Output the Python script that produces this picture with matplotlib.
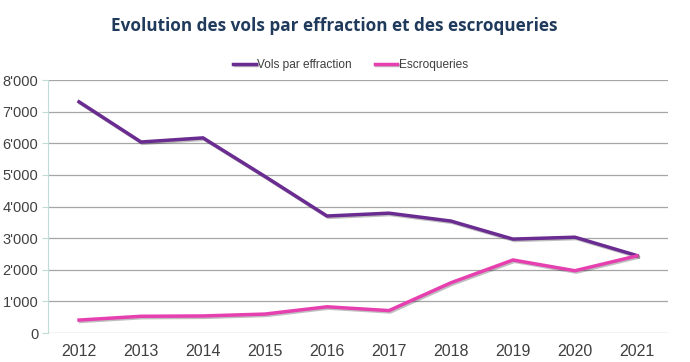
import matplotlib.pyplot as plt
import matplotlib.patheffects as pe
from matplotlib.ticker import FuncFormatter

years = [2012, 2013, 2014, 2015, 2016, 2017, 2018, 2019, 2020, 2021]
vols = [7310, 6040, 6170, 4950, 3700, 3790, 3540, 2970, 3030, 2450]
escroqueries = [410, 530, 540, 600, 830, 710, 1590, 2310, 1970, 2440]
yticks = [0, 1000, 2000, 3000, 4000, 5000, 6000, 7000, 8000]

plt.rcParams['font.family'] = ['Liberation Sans', 'DejaVu Sans']

fig = plt.figure(figsize=(6.9, 3.62), dpi=100)
ax = fig.add_axes([0.0696, 0.080, 0.8984, 0.699])

shadow = [pe.SimpleLineShadow(offset=(1, -1), alpha=0.25), pe.Normal()]
ax.plot(years, vols, color='#6A2C91', lw=2.5, label='Vols par effraction',
        path_effects=shadow, solid_joinstyle='miter')
ax.plot(years, escroqueries, color='#E640B0', lw=2.5, label='Escroqueries',
        path_effects=shadow, solid_joinstyle='miter')

ax.set_xlim(2011.5, 2021.5)
ax.set_ylim(0, 8000)
ax.set_xticks(years)
ax.set_yticks(yticks)
ax.yaxis.set_major_formatter(FuncFormatter(lambda v, p: f"{int(v):,}".replace(',', "'")))
ax.grid(axis='y', color='#A6A6A6', lw=0.9)
ax.set_axisbelow(True)
for s in ['top', 'right', 'bottom']:
    ax.spines[s].set_visible(False)
ax.spines['left'].set_color('#BFDCD8')
ax.tick_params(axis='y', length=4, color='#BFDCD8', labelsize=10.5, labelcolor='#404040', pad=3)
ax.tick_params(axis='x', length=0, labelsize=11.5, labelcolor='#404040', pad=8)

fig.text(0.484, 0.928, 'Evolution des vols par effraction et des escroqueries',
         ha='center', va='center', fontsize=12.3, fontweight='bold',
         color='#203A5C', family=['Open Sans', 'DejaVu Sans'])

fig.legend(loc='center', bbox_to_anchor=(0.508, 0.82), ncol=2, frameon=False,
           fontsize=8.6, handlelength=1.9, handletextpad=0.1, columnspacing=1.9,
           labelcolor='#404040')

fig.savefig('out.png', dpi=100)
